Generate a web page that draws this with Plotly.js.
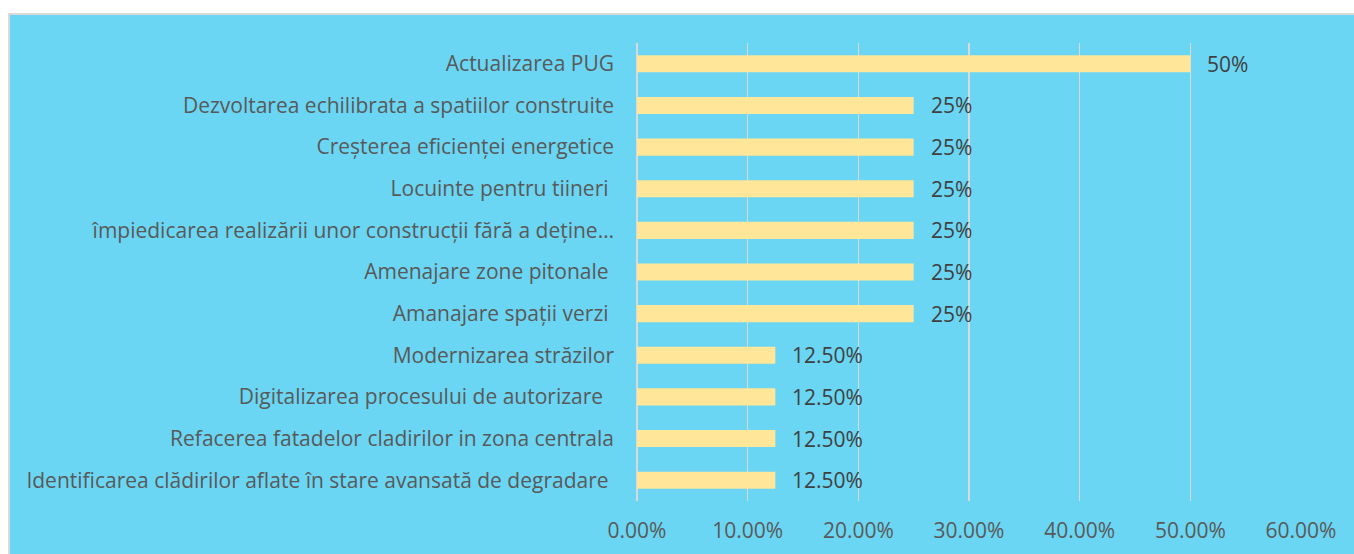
<!DOCTYPE html>
<html><head><meta charset="utf-8">
<script src="https://cdn.plot.ly/plotly-3.0.1.min.js"></script>
<style>html,body{margin:0;padding:0;background:#fff;}#chart{width:1354px;height:554px;}</style>
</head><body><div id="chart"></div>
<script>
const categories = [
  "Actualizarea PUG",
  "Dezvoltarea echilibrata a spatiilor construite",
  "Creșterea eficienței energetice",
  "Locuinte pentru tiineri\u00A0",
  "împiedicarea realizării unor construcții fără a deține…",
  "Amenajare zone pitonale\u00A0",
  "Amanajare spații verzi\u00A0",
  "Modernizarea străzilor",
  "Digitalizarea procesului de autorizare\u00A0\u00A0",
  "Refacerea fatadelor cladirilor in zona centrala",
  "Identificarea clădirilor aflate în stare avansată de degradare\u00A0"
];
const values = [0.50, 0.25, 0.25, 0.25, 0.25, 0.25, 0.25, 0.125, 0.125, 0.125, 0.125];
const valueLabels = ["50%", "25%", "25%", "25%", "25%", "25%", "25%", "12.50%", "12.50%", "12.50%", "12.50%"];
const xTickValues = [0, 0.1, 0.2, 0.3, 0.4, 0.5, 0.6];
const xTickLabels = ["0.00%", "10.00%", "20.00%", "30.00%", "40.00%", "50.00%", "60.00%"];

const FONT = "Open Sans, Noto Sans, sans-serif";
const FS = 21;
const trace = {
  type: "bar", orientation: "h",
  x: values, y: categories,
  marker: {color: "#FFE699"},
  hoverinfo: "none"
};
const annotations = values.map((v, i) => ({
  x: v, y: categories[i], xref: "x", yref: "y",
  text: valueLabels[i], showarrow: false,
  xanchor: "left", yanchor: "middle", xshift: 15,
  font: {family: FONT, size: FS, color: "#404040"}
}));
const layout = {
  width: 1354, height: 554,
  margin: {l: 637, r: 53, t: 43, b: 53},
  paper_bgcolor: "#ffffff",
  plot_bgcolor: "rgba(0,0,0,0)",
  bargap: 0.59,
  showlegend: false,
  font: {family: FONT, size: FS, color: "#595959"},
  xaxis: {
    range: [0, 0.6],
    tickvals: xTickValues, ticktext: xTickLabels,
    showgrid: true, gridcolor: "#D9D9D9", gridwidth: 1.5,
    zeroline: true, zerolinecolor: "#D9D9D9", zerolinewidth: 1.5,
    showline: false, ticks: "", ticklabelstandoff: 15,
    tickfont: {family: FONT, size: FS, color: "#595959"},
    fixedrange: true
  },
  yaxis: {
    autorange: "reversed", type: "category",
    showgrid: false, zeroline: false, showline: false,
    ticks: "", ticklabelstandoff: 22,
    tickfont: {family: FONT, size: FS, color: "#595959"},
    fixedrange: true
  },
  shapes: [{
    type: "rect", xref: "paper", yref: "paper", layer: "below",
    x0: -0.9458, x1: 1.2, y0: -0.2, y1: 1.0633,
    fillcolor: "#6AD6F3", line: {color: "#D9D9D9", width: 2}
  }],
  annotations: annotations
};
Plotly.newPlot("chart", [trace], layout, {displayModeBar: false, staticPlot: true});
</script></body></html>
